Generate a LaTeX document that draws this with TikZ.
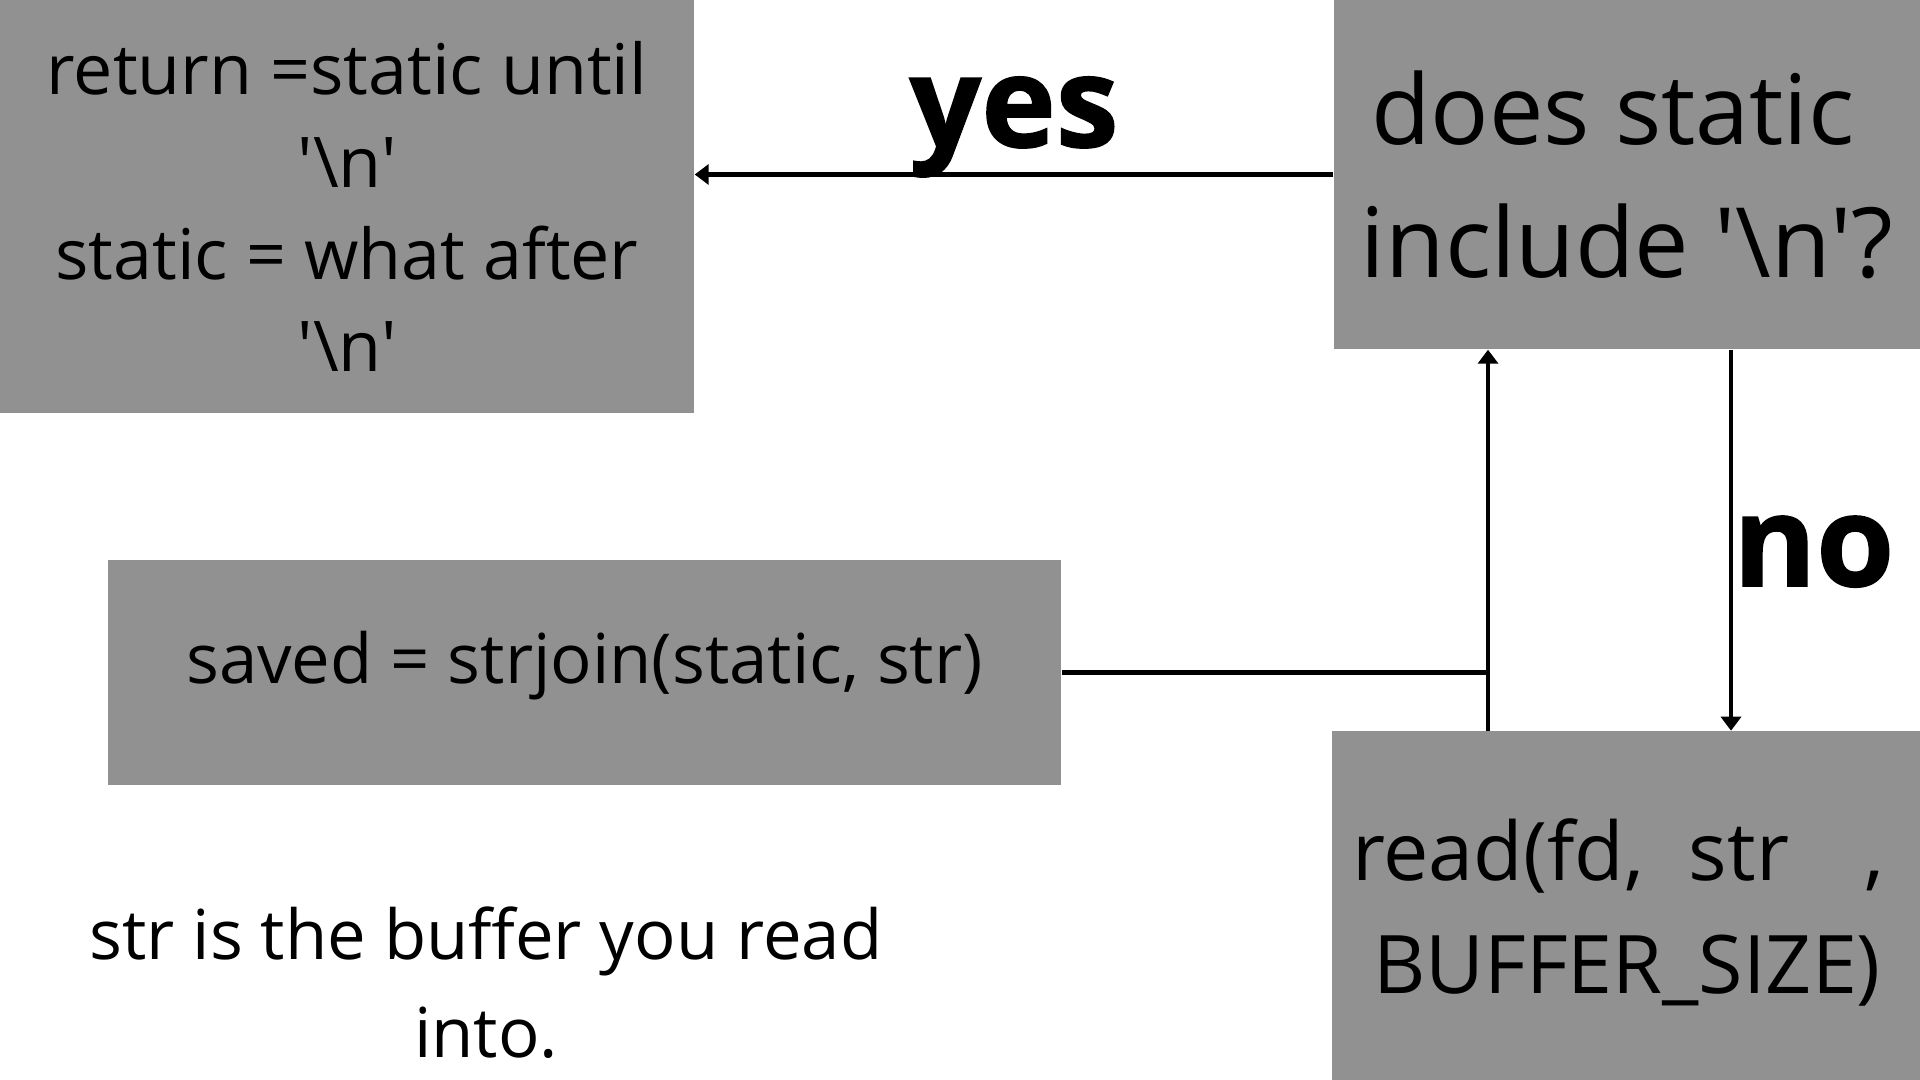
\documentclass[tikz,border=0pt]{standalone}
\usepackage{fontspec}
\setmainfont{Open Sans}[Ligatures=TeXOff]
\newfontfamily\heavyfont{Open Sans}[Ligatures=TeXOff,BoldFeatures={FakeBold=1.2}]
\usepackage{tikz}
\usetikzlibrary{arrows.meta,calc,positioning}
\tikzset{%
  arrow/.style={line width=1.3pt,-{Triangle[length=0.14cm,width=0.2cm]}},
  wire/.style={line width=1.3pt},
  flowbox/.style={rectangle,fill=boxgray,inner sep=0pt,align=center},
  answer/.style={font=\fontsize{35.9}{43}\selectfont\heavyfont\bfseries,inner sep=0pt},
}
\definecolor{boxgray}{HTML}{919191}
\newcommand{\bsn}{'\textbackslash n'}

\begin{document}
\begin{tikzpicture}
  \path[use as bounding box,fill=white] (0,0) rectangle (19.2,-10.8);

  \node[flowbox,minimum width=6.94cm,minimum height=4.13cm,font=\fontsize{19.9}{26.2}\selectfont] (ret) at (3.47,-2.065)
    {return =static until\\\bsn\\static = what after\\\bsn};
  \node[flowbox,minimum width=5.86cm,minimum height=3.49cm,font=\fontsize{27.6}{37.8}\selectfont] (check) at (16.27,-1.745)
    {does static\kern0.28cm\\include \bsn?};
  \node[flowbox,minimum width=9.53cm,minimum height=2.25cm,font=\fontsize{19.6}{24}\selectfont,text depth=0.3cm] (join) at (5.845,-6.725)
    {saved = strjoin(static, str)};
  \node[flowbox,minimum width=5.9cm,minimum height=3.5cm,below=3.81cm of check,font=\fontsize{23}{32.4}\selectfont] (read)
    {\rule{0pt}{0.74cm}read(fd,\hspace{0.45cm}str\hspace{0.75cm},\kern0.18cm\\BUFFER\_SIZE)};
  \node[align=center,inner sep=0pt,font=\fontsize{19.6}{27.9}\selectfont] (note) at (4.86,-9.83)
    {str is the buffer you read\\into.};

  \coordinate (up) at ([xshift=-1.39cm]read.north);
  \coordinate (down) at ([xshift=1.04cm]check.south);

  \draw[arrow] (check.west) -- (check.west -| ret.east) node[answer,midway,above,yshift=-0.05cm] {yes};
  \draw[arrow] (down) -- (down |- read.north) node[answer,pos=0.53,right] {no};
  \draw[arrow] (up) -- (up |- check.south);
  \draw[wire] (join.east) -- (join.east -| up);
\end{tikzpicture}
\end{document}
